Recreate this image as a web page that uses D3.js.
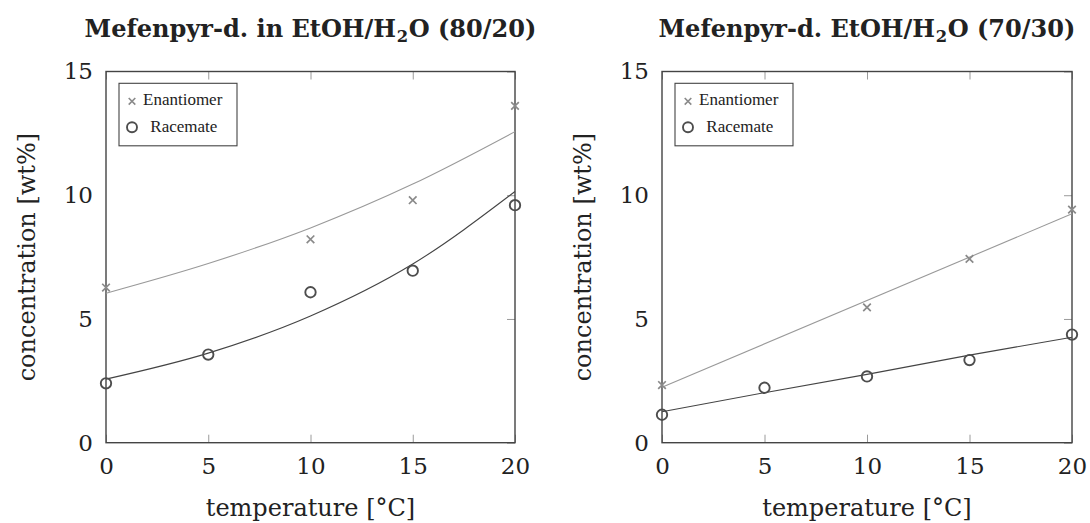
<!DOCTYPE html>
<html>
<head>
<meta charset="utf-8">
<script src="https://cdn.jsdelivr.net/npm/d3@7"></script>
<style>
  html, body { margin: 0; padding: 0; background: #fff; }
  svg { display: block; }
</style>
</head>
<body>
<svg id="chart" width="1090" height="523"></svg>
<script>
// Measured solubility of mefenpyr-diethyl in two EtOH/H2O mixtures
const tempTicks = [0, 5, 10, 15, 20];
const concTicks = [0, 5, 10, 15];

// EtOH/H2O 80/20
const enanTemp8020 = [0, 10, 15, 20];
const enanConc8020 = [6.27, 8.22, 9.80, 13.61];
const racTemp8020 = [0, 5, 10, 15, 20];
const racConc8020 = [2.40, 3.56, 6.08, 6.95, 9.60];
const enanFitTemp8020 = [0, 5, 10, 15, 20];
const enanFit8020 = [6.04, 7.24, 8.68, 10.45, 12.57];
const racFitTemp8020 = [0, 5, 10, 15, 20];
const racFit8020 = [2.57, 3.62, 5.12, 7.22, 10.15];

// EtOH/H2O 70/30
const enanTemp7030 = [0, 10, 15, 20];
const enanConc7030 = [2.33, 5.47, 7.43, 9.42];
const racTemp7030 = [0, 5, 10, 15, 20];
const racConc7030 = [1.13, 2.22, 2.68, 3.34, 4.37];
const enanFitTemp7030 = [0, 20];
const enanFit7030 = [2.24, 9.25];
const racFitTemp7030 = [0, 5, 10, 15, 20];
const racFit7030 = [1.25, 2.02, 2.76, 3.54, 4.26];

const legendLabels = ["Enantiomer", "Racemate"];

const svg = d3.select("#chart");
const zip = (xs, ys) => xs.map((x, i) => ({ x, y: ys[i] }));

const tickFont = "'DejaVu Serif', serif";
const enanColor = "#8a8a8a";
const racColor = "#4d4d4d";

const panels = [
  {
    left: 106, right: 515,
    titleParts: ["Mefenpyr-d. in EtOH/H", "2", "O (80/20)"],
    enan: zip(enanTemp8020, enanConc8020),
    rac: zip(racTemp8020, racConc8020),
    enanFit: zip(enanFitTemp8020, enanFit8020),
    racFit: zip(racFitTemp8020, racFit8020),
    curve: d3.curveMonotoneX
  },
  {
    left: 662, right: 1072,
    titleParts: ["Mefenpyr-d. EtOH/H", "2", "O (70/30)"],
    enan: zip(enanTemp7030, enanConc7030),
    rac: zip(racTemp7030, racConc7030),
    enanFit: zip(enanFitTemp7030, enanFit7030),
    racFit: zip(racFitTemp7030, racFit7030),
    curve: d3.curveLinear
  }
];

const plotTop = 71.5, plotBottom = 442.7;
const titleGroups = [];

panels.forEach(p => {
  const x = d3.scaleLinear().domain([0, 20]).range([p.left, p.right]);
  const y = d3.scaleLinear().domain([0, 15]).range([plotBottom, plotTop]);
  const g = svg.append("g");

  // bottom axis: inward ticks with labels
  const bx = g.append("g").attr("transform", `translate(0,${plotBottom})`)
    .call(d3.axisBottom(x).tickValues(tempTicks).tickSizeInner(-8).tickSizeOuter(0).tickPadding(14.5));
  // top axis: inward ticks only
  const tx = g.append("g").attr("transform", `translate(0,${plotTop})`)
    .call(d3.axisTop(x).tickValues(tempTicks).tickSizeInner(-8).tickSizeOuter(0).tickFormat(""));
  // left axis: labels only
  const ly = g.append("g").attr("transform", `translate(${p.left},0)`)
    .call(d3.axisLeft(y).tickValues(concTicks).tickSize(0).tickPadding(13));
  // right axis: inward ticks only
  const ry = g.append("g").attr("transform", `translate(${p.right},0)`)
    .call(d3.axisRight(y).tickValues(concTicks).tickSizeInner(-8).tickSizeOuter(0).tickFormat(""));

  [bx, tx, ly, ry].forEach(a => {
    a.select(".domain").remove();
    a.selectAll(".tick line").attr("stroke", "#9a9a9a").attr("stroke-width", 1);
    a.selectAll(".tick text")
      .attr("font-family", tickFont).attr("font-size", 23).attr("fill", "#222");
  });

  // frame
  g.append("rect")
    .attr("x", p.left).attr("y", plotTop)
    .attr("width", p.right - p.left).attr("height", plotBottom - plotTop)
    .attr("fill", "none").attr("stroke", "#444").attr("stroke-width", 1.4);

  // fitted curves
  const line = d3.line().x(d => x(d.x)).y(d => y(d.y)).curve(p.curve);
  g.append("path").datum(p.enanFit).attr("d", line)
    .attr("fill", "none").attr("stroke", "#999").attr("stroke-width", 1.1);
  g.append("path").datum(p.racFit).attr("d", line)
    .attr("fill", "none").attr("stroke", "#444").attr("stroke-width", 1.1);

  // enantiomer crosses
  const s = 3.8;
  g.append("g").selectAll("path").data(p.enan).join("path")
    .attr("d", d => `M${x(d.x) - s},${y(d.y) - s}L${x(d.x) + s},${y(d.y) + s}M${x(d.x) - s},${y(d.y) + s}L${x(d.x) + s},${y(d.y) - s}`)
    .attr("stroke", enanColor).attr("stroke-width", 1.7).attr("fill", "none");

  // racemate circles
  g.append("g").selectAll("circle").data(p.rac).join("circle")
    .attr("cx", d => x(d.x)).attr("cy", d => y(d.y)).attr("r", 5.2)
    .attr("fill", "none").attr("stroke", racColor).attr("stroke-width", 1.9);

  // axis titles
  const cx = (p.left + p.right) / 2;
  g.append("text").attr("x", cx).attr("y", 516)
    .attr("text-anchor", "middle").attr("font-family", tickFont).attr("font-size", 24)
    .attr("fill", "#222").text("temperature [°C]");
  g.append("text")
    .attr("transform", `translate(${p.left - 71},${(plotTop + plotBottom) / 2}) rotate(-90)`)
    .attr("text-anchor", "middle").attr("font-family", tickFont).attr("font-size", 24)
    .attr("fill", "#222").text("concentration [wt%]");

  // title: main text, subscript, rest — laid out side by side
  const tg = g.append("g");
  const parts = p.titleParts.map((str, i) => tg.append("text")
    .attr("font-family", tickFont).attr("font-weight", "bold")
    .attr("font-size", i === 1 ? 17 : 25).attr("fill", "#222")
    .attr("y", i === 1 ? 5 : 0).text(str));
  const widths = parts.map(t => t.node().getComputedTextLength());
  const total = d3.sum(widths) + 1;
  let pos = -total / 2;
  parts.forEach((t, i) => { t.attr("x", pos); pos += widths[i] + 0.5; });
  titleGroups.push({ tg, cx, total });

  // legend
  const lx = p.left + 13, ly0 = 83.3;
  const lg = g.append("g");
  lg.append("rect").attr("x", lx).attr("y", ly0).attr("width", 118).attr("height", 62.5)
    .attr("fill", "#fff").attr("stroke", "#444").attr("stroke-width", 1.1);
  const mx = lx + 13, my1 = ly0 + 18, my2 = ly0 + 44;
  const ls = 3.3;
  lg.append("path")
    .attr("d", `M${mx - ls},${my1 - ls}L${mx + ls},${my1 + ls}M${mx - ls},${my1 + ls}L${mx + ls},${my1 - ls}`)
    .attr("stroke", enanColor).attr("stroke-width", 1.6);
  lg.append("circle").attr("cx", mx).attr("cy", my2).attr("r", 5)
    .attr("fill", "none").attr("stroke", racColor).attr("stroke-width", 1.9);
  lg.append("text").attr("x", lx + 24).attr("y", ly0 + 22)
    .attr("font-family", "'Liberation Serif', serif").attr("font-size", 17).attr("fill", "#222")
    .text(legendLabels[0]);
  lg.append("text").attr("x", lx + 31.3).attr("y", ly0 + 48.5)
    .attr("font-family", "'Liberation Serif', serif").attr("font-size", 17).attr("fill", "#222")
    .text(legendLabels[1]);
});

// condense both titles by one shared factor so the first one spans its panel
const factor = Math.min(1, 452 / titleGroups[0].total);
titleGroups.forEach(({ tg, cx }) => {
  tg.attr("transform", `translate(${cx},36.7) scale(${factor},1)`);
});
</script>
</body>
</html>
